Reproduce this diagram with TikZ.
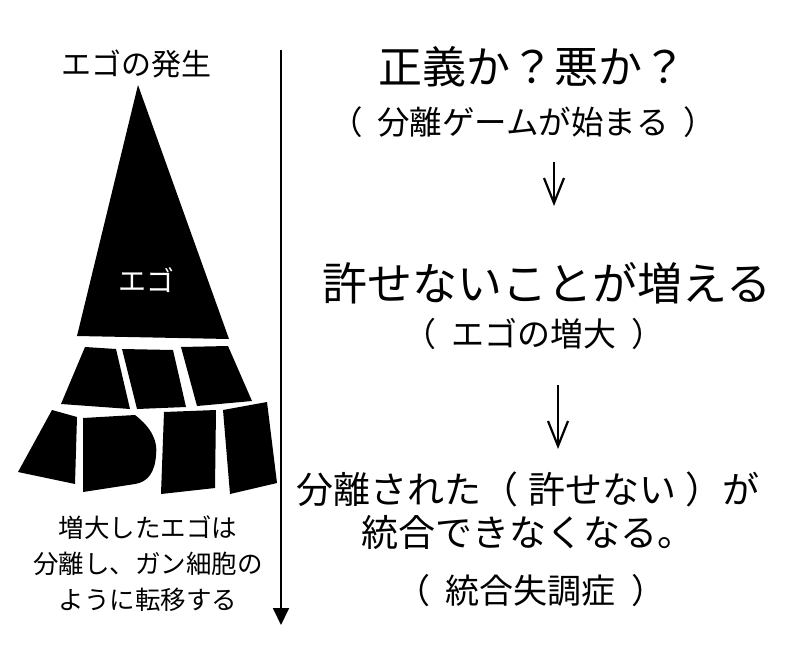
\documentclass[tikz,border=0pt]{standalone}
\usepackage{fontspec}
\setmainfont{Noto Sans CJK JP}
\usetikzlibrary{arrows.meta}
\newcommand\pgap{\hspace{0.45em}}
\begin{document}
\begin{tikzpicture}[x=1pt,y=-1pt,
  piece/.style={fill=black,draw=none},
  txt/.style={inner sep=0pt,align=center},
  fs/.style={font=\fontsize{#1}{#1}\selectfont},
  flow/.style={line width=2.2pt,-{Straight Barb[width=20pt,length=25pt,line width=2.2pt]}},
  timeline/.style={line width=1.8pt,-{Triangle[width=16pt,length=17pt]}}
]
\useasboundingbox[fill=white] (0,0) rectangle (800,645);

% pyramid
\fill[piece] (138,85) -- (229,339) -- (77,336) -- cycle;
\fill[piece] (85,347) -- (116,349) -- (130,409) -- (61,404) -- cycle;
\fill[piece] (122,349) -- (173,350) -- (186,407) -- (137,409) -- cycle;
\fill[piece] (181,347) -- (228,346) -- (252,401) -- (197,406) -- cycle;
\fill[piece] (52,410) -- (77,417) -- (75,484) -- (18,472) -- cycle;
\fill[piece] (83,418) -- (135,415) .. controls (152,428) and (158,442) .. (156,455)
  .. controls (155,472) and (148,482) .. (135,484) -- (83,492) -- cycle;
\fill[piece] (164,412) -- (216,410) -- (215,488) -- (161,494) -- cycle;
\fill[piece] (223,410) -- (267,402) -- (277,483) -- (230,494) -- cycle;

% labels on the left
\node[txt,fs=30] (origin) at (136,64) {エゴの発生};
\node[txt,fs=28,text=white] (ego) at (146,280) {エゴ};
\node[txt,font=\fontsize{25.5}{36}\selectfont] (meta) at (148,564)
  {増大したエゴは\\分離し、ガン細胞の\\ように転移する};

% timeline
\coordinate (tl0) at (281,50);
\coordinate (tl1) at (281,625);
\draw[timeline] (tl0) -- (tl1);

% right column
\node[txt,fs=44] (q) at (532,67) {正義か？悪か？};
\node[txt,fs=32.5] (q2) at (523,122) {（\pgap 分離ゲームが始まる\pgap）};
\node[txt,fs=45] (m) at (547,283) {許せないことが増える};
\node[txt,fs=33] (m2) at (534,334) {（\pgap エゴの増大\pgap）};
\node[txt,font=\fontsize{37}{43}\selectfont] (r) at (528,511)
  {分離された（\hspace{0.25em}許せない\hspace{0.25em}）が\\統合できなくなる。};
\node[txt,fs=34] (r2) at (531,591) {（\pgap 統合失調症\pgap）};

\coordinate (a1s) at (554,162);
\coordinate (a1e) at (554,206);
\coordinate (a2s) at (558,385);
\coordinate (a2e) at (558,449);
\draw[flow] (a1s) -- (a1e);
\draw[flow] (a2s) -- (a2e);
\end{tikzpicture}
\end{document}
